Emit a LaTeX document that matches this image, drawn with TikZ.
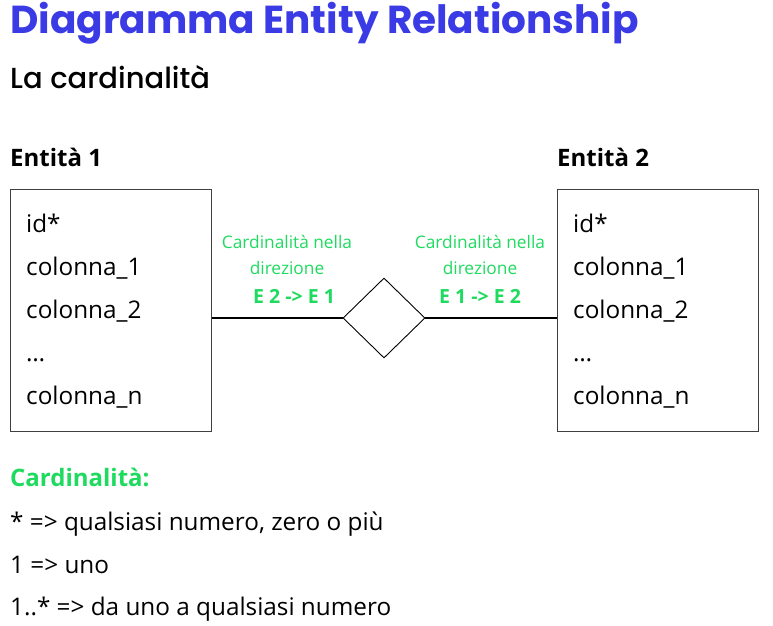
\documentclass[tikz,border=0pt]{standalone}
\usepackage{fontspec}
\setmainfont{Open Sans}
\newfontfamily\titlefont{Poppins}
\newfontfamily\subfont{Poppins Medium}
\usetikzlibrary{shapes.geometric}
\definecolor{titleblue}{HTML}{3B3BE6}
\definecolor{cardgreen}{HTML}{1EDB5F}
\tikzstyle{entitybox} = [draw=black!75, line width=1pt, minimum width=201pt, minimum height=242pt, anchor=north west, inner sep=0pt]
\tikzstyle{textline} = [anchor=base west, inner sep=0pt, font=\fontsize{24.3}{28}\selectfont]
\tikzstyle{heading} = [anchor=base west, inner sep=0pt, font=\bfseries\fontsize{24}{28}\selectfont]
\tikzstyle{relation} = [draw, diamond, minimum width=82pt, minimum height=80pt, inner sep=0pt, line width=0.9pt]
\tikzstyle{edge} = [line width=1.6pt]
\tikzstyle{cardlabel} = [anchor=base, inner sep=0pt, text=cardgreen, font=\fontsize{17.3}{20}\selectfont]

\begin{document}
\begin{tikzpicture}[x=1pt,y=-1pt]
    \useasboundingbox (0,0) rectangle (773,625);
    % titles
    \node[anchor=base west, inner sep=0pt, text=titleblue,
        font=\titlefont\bfseries\fontsize{39}{46}\selectfont] (title) at (10,33)
        {Diagramma Entity Relationship};
    \node[anchor=base west, inner sep=0pt,
        font=\subfont\fontsize{29}{34}\selectfont] (subtitle) at (10,88)
        {La cardinalità};
    % entities
    \node[heading] (head1) at (10,166) {Entità 1};
    \node[heading] (head2) at (557,166) {Entità 2};
    \node[entitybox] (ent1) at (10,189) {};
    \node[entitybox] (ent2) at (557,189) {};
    \foreach \name/\col [count=\i] in {id/id*,c1/colonna\_1,c2/colonna\_2,dots/\dots,cn/colonna\_n}{
        \node[textline] (ent1-\name) at (26,{232+43*(\i-1)}) {\col};
        \node[textline] (ent2-\name) at (573,{232+43*(\i-1)}) {\col};
    }
    % relationship
    \node[relation] (rel) at (384,318) {};
    \draw[edge] (ent1.east |- rel.west) -- (rel.west);
    \draw[edge] (rel.east) -- (ent2.west |- rel.east);
    \node[cardlabel] (lab1a) at (287,248) {Cardinalità nella};
    \node[cardlabel] (lab1b) at (287,274) {direzione};
    \node[cardlabel, font=\bfseries\fontsize{19.5}{22}\selectfont] (lab1c) at (294,303) {E 2 -> E 1};
    \node[cardlabel] (lab2a) at (480,248) {Cardinalità nella};
    \node[cardlabel] (lab2b) at (480,274) {direzione};
    \node[cardlabel, font=\bfseries\fontsize{19.5}{22}\selectfont] (lab2c) at (480,303) {E 1 -> E 2};
    % legend
    \node[heading, text=cardgreen] (legend) at (10,486) {Cardinalità:};
    \node[textline] (leg1) at (10,530) {* => qualsiasi numero, zero o più};
    \node[textline] (leg2) at (10,573) {1 => uno};
    \node[textline] (leg3) at (10,615) {1..* => da uno a qualsiasi numero};
\end{tikzpicture}
\end{document}
